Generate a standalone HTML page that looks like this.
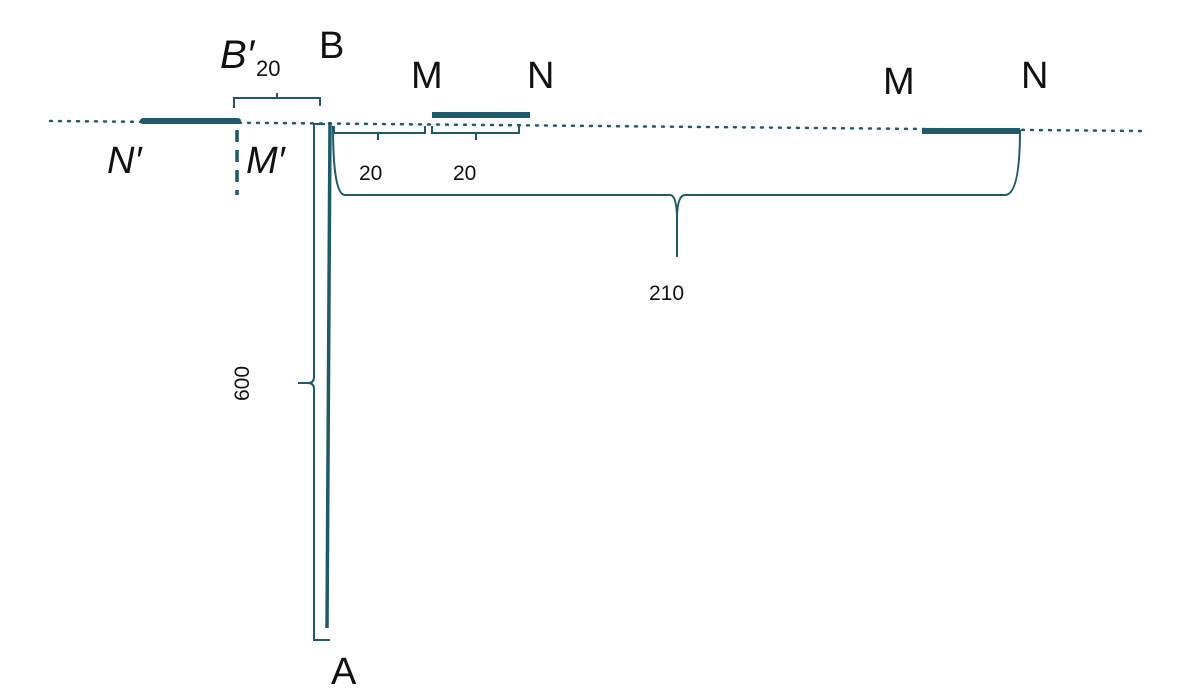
<!DOCTYPE html>
<html><head><meta charset="utf-8"><style>
body{margin:0;background:#fff;}
svg{display:block;}
text{font-family:"Liberation Sans",sans-serif;fill:#111;}
</style></head><body>
<svg width="1200" height="698" viewBox="0 0 1200 698" xmlns="http://www.w3.org/2000/svg">
<g stroke="#1f5a6a" fill="none">
<line x1="50" y1="121" x2="1142" y2="131" stroke-width="2.5" stroke-dasharray="2 7" stroke-linecap="round"/>
<line x1="143" y1="121" x2="238" y2="121" stroke-width="6" stroke-linecap="round"/>
<line x1="432" y1="115" x2="530" y2="115" stroke-width="6"/>
<line x1="922" y1="131" x2="1020" y2="131" stroke-width="6"/>
<line x1="237" y1="130" x2="237" y2="195" stroke-width="3.5" stroke-dasharray="12 8"/>
<path d="M234 108 V98 H277 V93 M283 98 H320 V106 M277 98 H283" stroke-width="2"/>
<line x1="330" y1="122" x2="327" y2="628" stroke-width="3.5"/>
<path d="M325 124 H314 V377 Q314 383 308 383 H298 M308 383 Q314 383 314 389 V640 H330" stroke-width="2"/>
<path d="M334 126 V133 H425 V126 M378 133 V140" stroke-width="2"/>
<path d="M432 126 V133 H519 V126 M476 133 V140" stroke-width="2"/>
<path d="M333 126 Q333 195 345 195 H670 Q676 195 677 215 V257 M677 215 Q678 195 685 195 H1005 Q1020 195 1020 130" stroke-width="2"/>
</g>
<text x="220" y="68" font-size="40" font-style="italic">B′</text>
<text x="256" y="76" font-size="22">20</text>
<text x="319" y="58" font-size="38">B</text>
<text x="411" y="88" font-size="38">M</text>
<text x="527" y="88" font-size="38">N</text>
<text x="883" y="94" font-size="38">M</text>
<text x="1021" y="88" font-size="38">N</text>
<text x="107" y="173" font-size="38" font-style="italic">N′</text>
<text x="246" y="173" font-size="38" font-style="italic">M′</text>
<text x="359" y="180" font-size="21">20</text>
<text x="453" y="180" font-size="21">20</text>
<text x="649" y="300" font-size="21">210</text>
<text x="0" y="0" font-size="21" transform="translate(249,401) rotate(-90)">600</text>
<text x="331" y="684" font-size="38">A</text>
</svg>
</body></html>
